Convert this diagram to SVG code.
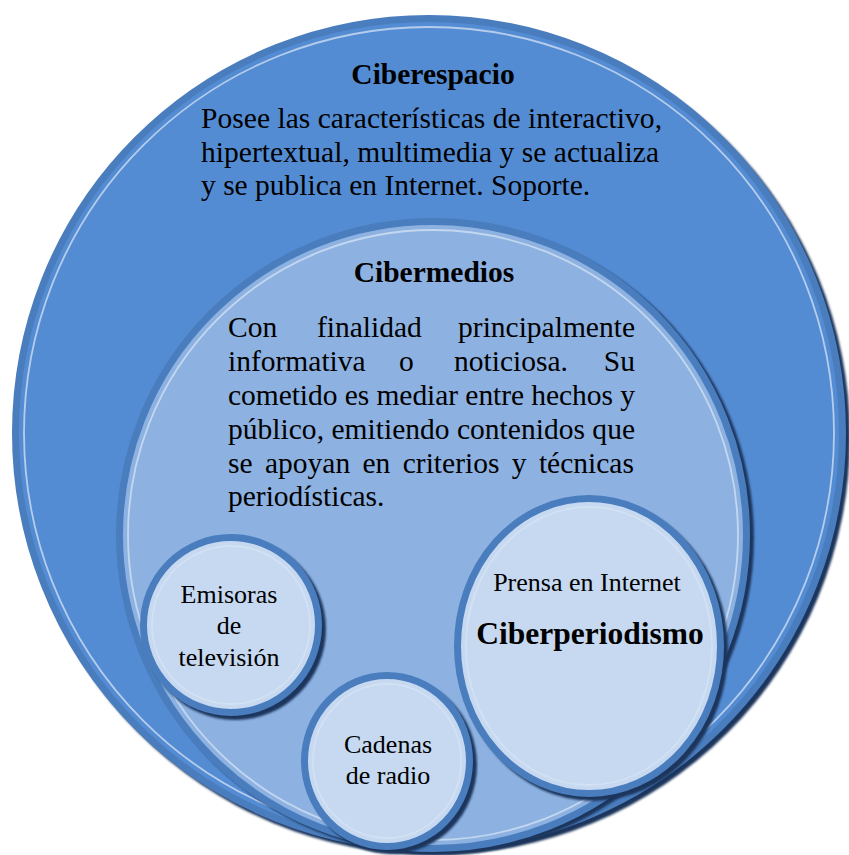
<svg xmlns="http://www.w3.org/2000/svg" width="849" height="855" viewBox="0 0 849 855">
<defs>
<filter id="sh" x="-10%" y="-10%" width="120%" height="120%"><feGaussianBlur stdDeviation="1.2"/></filter>
</defs>
<style>
.shadow{fill:#1c355c;filter:url(#sh)}
.rim{stroke:#4a7dbd;stroke-width:7}
.inner{fill:none;stroke:#d6e3f3;stroke-width:1.8;opacity:.75}
.t{font-family:"Liberation Serif","Times New Roman",serif;fill:#000}
.b{font-weight:bold}
.body{font-size:29.5px}
.small{font-size:26px}
</style>
<rect width="849" height="855" fill="#ffffff"/>
<g id="ciberespacio">
<ellipse class="shadow" cx="433" cy="437" rx="417" ry="418"/>
<ellipse class="rim" cx="429" cy="433" rx="413.5" ry="414.5" fill="#548cd4"/>
<ellipse class="inner" cx="429" cy="433" rx="405" ry="406"/>
<text class="t b body" x="433" y="84" text-anchor="middle">Ciberespacio</text>
<text class="t body" x="201" y="128" textLength="461" lengthAdjust="spacing">Posee las características de interactivo,</text>
<text class="t body" x="201" y="162" textLength="458" lengthAdjust="spacing">hipertextual, multimedia y se actualiza</text>
<text class="t body" x="201" y="195">y se publica en Internet. Soporte.</text>
</g>
<g id="cibermedios">
<ellipse class="shadow" cx="437" cy="538" rx="317" ry="317"/>
<ellipse class="rim" cx="433" cy="535" rx="313.5" ry="313.5" fill="#8db2e2"/>
<ellipse class="inner" cx="433" cy="535" rx="305" ry="305"/>
<text class="t b body" x="434" y="282" text-anchor="middle">Cibermedios</text>
<text class="t body" y="337"><tspan x="228">Con</tspan><tspan x="317">finalidad</tspan><tspan x="635" text-anchor="end">principalmente</tspan></text>
<text class="t body" y="371"><tspan x="228">informativa</tspan><tspan x="399">o</tspan><tspan x="454">noticiosa.</tspan><tspan x="635" text-anchor="end">Su</tspan></text>
<text class="t body" x="228" y="405" textLength="407" lengthAdjust="spacing">cometido es mediar entre hechos y</text>
<text class="t body" x="228" y="439" textLength="407" lengthAdjust="spacing">público, emitiendo contenidos que</text>
<text class="t body" x="228" y="473" word-spacing="5">se apoyan en criterios y técnicas</text>
<text class="t body" x="228" y="506">periodísticas.</text>
</g>
<g id="prensa">
<ellipse class="shadow" cx="593" cy="650" rx="135" ry="151"/>
<ellipse class="rim" cx="589" cy="646" rx="131.5" ry="147.5" fill="#c6d9f1"/>
<ellipse class="inner" cx="589" cy="646" rx="123" ry="139"/>
<text class="t small" x="587" y="591" text-anchor="middle" font-size="26.5">Prensa en Internet</text>
<text class="t b" x="590" y="644" text-anchor="middle" font-size="31.5">Ciberperiodismo</text>
</g>
<g id="emisoras">
<ellipse class="shadow" cx="235" cy="629" rx="91" ry="91"/>
<ellipse class="rim" cx="231" cy="625" rx="87.5" ry="87.5" fill="#c6d9f1"/>
<ellipse class="inner" cx="231" cy="625" rx="79" ry="79"/>
<text class="t small" x="229" y="603" text-anchor="middle">Emisoras</text>
<text class="t small" x="229" y="634" text-anchor="middle">de</text>
<text class="t small" x="229" y="666" text-anchor="middle">televisión</text>
</g>
<g id="cadenas">
<ellipse class="shadow" cx="391" cy="765" rx="86" ry="89"/>
<ellipse class="rim" cx="387" cy="761" rx="82.5" ry="85.5" fill="#c6d9f1"/>
<ellipse class="inner" cx="387" cy="761" rx="74" ry="77"/>
<text class="t small" x="388" y="753" text-anchor="middle">Cadenas</text>
<text class="t small" x="388" y="784" text-anchor="middle">de radio</text>
</g>
<g id="connectors"></g>
</svg>
